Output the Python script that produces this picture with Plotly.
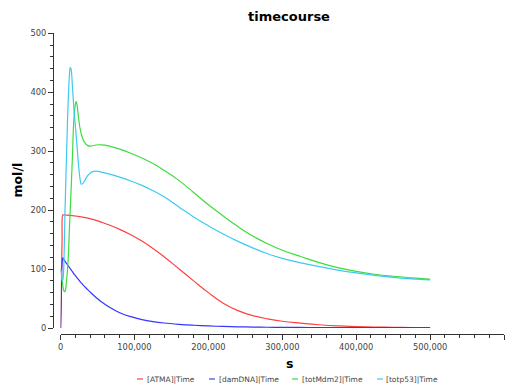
import plotly.graph_objects as go

W, H = 521, 386

time = [0, 1000, 2000, 3000, 4000, 5000, 6000, 8000, 10000, 12000, 13000, 14000,
        16000, 18000, 20000, 21000, 22000, 24000, 26000, 28000, 30000, 33000,
        37000, 42000, 48000, 55000, 65000, 80000, 95000, 110000, 125000, 140000,
        160000, 180000, 200000, 220000, 240000, 260000, 280000, 300000, 325000,
        350000, 375000, 400000, 425000, 450000, 475000, 500000]

atma = [0, 70, 150, 192, 192, 191.9, 191.8, 191.6, 191.4, 191.1, 191, 190.9,
        190.6, 190.3, 190, 189.8, 189.65, 189.3, 188.9, 188.5, 188.1, 187.4,
        186.3, 184.7, 182.5, 179.6, 175.1, 167.3, 158.2, 147.5, 135, 121,
        100.5, 80, 60, 42, 29.5, 21, 15.5, 11.5, 8.3,
        5.5, 3.5, 2.3, 1.6, 1.1, 0.8, 0.6]

damdna = [0, 50, 110, 119, 117, 115, 113, 109.5, 106, 102.5, 100.7, 99,
          95.5, 92, 88.7, 87.1, 85.5, 82.4, 79.4, 76.5, 73.7, 69.7,
          64.6, 58.6, 51.8, 44.6, 36, 26, 19.2, 14.3, 10.9, 8.5,
          6.3, 4.7, 3.5, 2.6, 2, 1.6, 1.3, 1.1, 0.9,
          0.8, 0.7, 0.6, 0.6, 0.5, 0.5, 0.5]

totmdm2 = [100, 95, 85, 72, 65, 62, 62, 80, 112, 170, 200, 228,
           290, 355, 380, 384, 380, 360, 341, 329, 321, 314,
           309.5, 308.8, 310.5, 310.8, 309, 303.5, 296.5, 288.5, 279, 267.5,
           250.5, 230, 209, 190, 172, 156, 143, 132, 121.3,
           110.8, 102.3, 96, 91.2, 87.8, 85.2, 83]

totp53 = [100, 90, 80, 82, 95, 140, 200, 290, 375, 430, 442, 440,
          410, 372, 343, 327, 312, 281, 256, 244, 245, 251,
          259, 264.5, 266, 264.5, 261.5, 256, 249.5, 242, 233, 222.5,
          205.5, 188.5, 173.5, 159.5, 147, 136, 126, 118, 110.5,
          104, 98.3, 93.4, 89.3, 86, 83.5, 81.5]

names = ["[ATMA]|Time", "[damDNA]|Time", "[totMdm2]|Time", "[totp53]|Time"]
series = [atma, damdna, totmdm2, totp53]
colors = ["#ff4040", "#3535ff", "#3ddc3d", "#3ccaf0"]
legend_colors = ["#ff8c8c", "#8c8cff", "#8ce88c", "#8cdcf8"]

fig = go.Figure()
for nm, ys, c in zip(names, series, colors):
    fig.add_trace(go.Scatter(x=time, y=ys, mode="lines", name=nm,
                             line=dict(color=c, width=1.2, shape="spline",
                                       smoothing=1.2),
                             showlegend=False))

axis_col = "#333333"
font_fam = "DejaVu Sans"

fig.update_layout(
    width=W, height=H,
    margin=dict(l=0, r=0, t=0, b=0),
    paper_bgcolor="white", plot_bgcolor="white",
    showlegend=False,
    title=dict(text="<b>timecourse</b>", x=289 / W, xanchor="center",
               y=1 - 16 / H, yanchor="middle",
               font=dict(family=font_fam, size=13, color="black")),
    xaxis=dict(range=[0, 600000], domain=[60.6 / W, 504 / W],
               anchor="free", position=(H - 334) / H,
               showgrid=False, zeroline=False, showline=True,
               linecolor=axis_col, linewidth=1,
               ticks="outside", ticklen=5, tickcolor=axis_col, tickwidth=1,
               dtick=100000, tick0=0, tickformat=",d",
               minor=dict(dtick=20000, tick0=0, ticks="outside", ticklen=3,
                          tickcolor=axis_col, showgrid=False),
               tickfont=dict(family=font_fam, size=8.3, color="#444444"),
               automargin=False),
    yaxis=dict(range=[0, 500], domain=[(H - 328) / H, (H - 33.3) / H],
               anchor="free", position=53 / W,
               showgrid=False, zeroline=False, showline=True,
               linecolor=axis_col, linewidth=1,
               ticks="outside", ticklen=5, tickcolor=axis_col, tickwidth=1,
               dtick=100, tick0=0,
               minor=dict(dtick=20, tick0=0, ticks="outside", ticklen=3,
                          tickcolor=axis_col, showgrid=False),
               tickfont=dict(family=font_fam, size=8.3, color="#444444"),
               automargin=False),
)

annotations = [
    dict(text="<b>mol/l</b>", x=17 / W, y=1 - 180.5 / H, xref="paper", yref="paper",
         textangle=-90, showarrow=False, xanchor="center", yanchor="middle",
         font=dict(family=font_fam, size=12.5, color="black")),
    dict(text="<b>s</b>", x=289.5 / W, y=1 - 363 / H, xref="paper", yref="paper",
         showarrow=False, xanchor="center", yanchor="middle",
         font=dict(family=font_fam, size=12.5, color="black")),
]
shapes = []
leg_x = [137, 209, 292, 377]
leg_y = 1 - 379 / H
for nm, lc, lx in zip(names, legend_colors, leg_x):
    shapes.append(dict(type="line", xref="paper", yref="paper",
                       x0=lx / W, x1=(lx + 6) / W, y0=leg_y, y1=leg_y,
                       line=dict(color=lc, width=2)))
    annotations.append(dict(
        text=nm, x=(lx + 7.5) / W, y=leg_y, xref="paper", yref="paper",
        showarrow=False, xanchor="left", yanchor="middle",
        font=dict(family=font_fam, size=7.5, color="#444444")))
fig.update_layout(annotations=annotations, shapes=shapes)

fig.write_html("out.html")
